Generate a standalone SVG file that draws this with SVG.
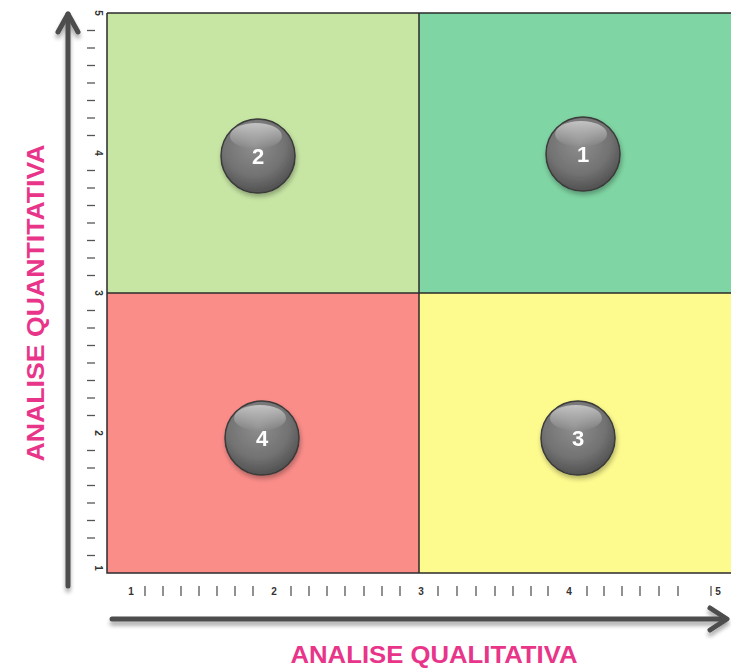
<svg xmlns="http://www.w3.org/2000/svg" width="731" height="668" viewBox="0 0 731 668">
<style>
.q{stroke:none}
.grid{fill:none;stroke:#2b2b2b;stroke-width:1.5}
.tk{stroke:#555;stroke-width:1.3}
.tl{font-family:"Liberation Sans",Arial,sans-serif;font-size:10px;font-weight:bold;fill:#333}
.ax{fill:none;stroke:#4d4d4d;stroke-width:5;stroke-linecap:round;stroke-linejoin:round}
.lbl{font-family:"Liberation Sans",Arial,sans-serif;font-size:23px;font-weight:bold;fill:#e8358a}
.num{font-family:"Liberation Sans",Arial,sans-serif;font-size:22px;font-weight:bold;fill:#ffffff;text-anchor:middle}
.ball{fill:url(#bg);stroke:#3a3a3a;stroke-width:1.5}
</style>
<defs>
<radialGradient id="bg" cx="0.45" cy="0.35" r="0.7">
<stop offset="0" stop-color="#8e8e8e"/>
<stop offset="0.6" stop-color="#727272"/>
<stop offset="1" stop-color="#4a4a4a"/>
</radialGradient>
<linearGradient id="hl" x1="0" y1="0" x2="0" y2="1">
<stop offset="0" stop-color="#ffffff" stop-opacity="0.55"/>
<stop offset="1" stop-color="#ffffff" stop-opacity="0"/>
</linearGradient>
<filter id="sh" x="-20%" y="-50%" width="140%" height="250%">
<feGaussianBlur in="SourceAlpha" stdDeviation="2"/>
<feOffset dx="0" dy="4" result="o"/>
<feComponentTransfer><feFuncA type="linear" slope="0.35"/></feComponentTransfer>
<feMerge><feMergeNode/><feMergeNode in="SourceGraphic"/></feMerge>
</filter>
<filter id="bs" x="-30%" y="-30%" width="160%" height="170%">
<feGaussianBlur in="SourceAlpha" stdDeviation="2.5"/>
<feOffset dx="1" dy="3"/>
<feComponentTransfer><feFuncA type="linear" slope="0.3"/></feComponentTransfer>
<feMerge><feMergeNode/><feMergeNode in="SourceGraphic"/></feMerge>
</filter>
</defs>
<rect width="731" height="668" fill="#ffffff"/>

<g id="quadrants">
<rect class="q" x="107" y="13" width="312" height="280" fill="#c7e6a4"/>
<rect class="q" x="419" y="13" width="312" height="280" fill="#7fd5a3"/>
<rect class="q" x="107" y="293" width="312" height="280" fill="#fb8d89"/>
<rect class="q" x="419" y="293" width="312" height="280" fill="#fdfa8e"/>
<path class="grid" d="M107,13 H731 M107,13 V573 H731 M419,13 V573 M107,293 H731"/>
</g>

<g id="y-axis-ticks">
<g class="tk">
<line x1="87" y1="30.5" x2="95" y2="30.5"/><line x1="87" y1="48" x2="95" y2="48"/><line x1="87" y1="65.5" x2="95" y2="65.5"/><line x1="87" y1="83" x2="95" y2="83"/><line x1="87" y1="100.5" x2="95" y2="100.5"/><line x1="87" y1="118" x2="95" y2="118"/><line x1="87" y1="135.5" x2="95" y2="135.5"/>
<line x1="87" y1="170.5" x2="95" y2="170.5"/><line x1="87" y1="188" x2="95" y2="188"/><line x1="87" y1="205.5" x2="95" y2="205.5"/><line x1="87" y1="223" x2="95" y2="223"/><line x1="87" y1="240.5" x2="95" y2="240.5"/><line x1="87" y1="258" x2="95" y2="258"/><line x1="87" y1="275.5" x2="95" y2="275.5"/>
<line x1="87" y1="310.5" x2="95" y2="310.5"/><line x1="87" y1="328" x2="95" y2="328"/><line x1="87" y1="345.5" x2="95" y2="345.5"/><line x1="87" y1="363" x2="95" y2="363"/><line x1="87" y1="380.5" x2="95" y2="380.5"/><line x1="87" y1="398" x2="95" y2="398"/><line x1="87" y1="415.5" x2="95" y2="415.5"/>
<line x1="87" y1="450.5" x2="95" y2="450.5"/><line x1="87" y1="468" x2="95" y2="468"/><line x1="87" y1="485.5" x2="95" y2="485.5"/><line x1="87" y1="503" x2="95" y2="503"/><line x1="87" y1="520.5" x2="95" y2="520.5"/><line x1="87" y1="538" x2="95" y2="538"/><line x1="87" y1="555.5" x2="95" y2="555.5"/>
</g>
<text class="tl" transform="translate(95,13) rotate(90)" text-anchor="middle">5</text>
<text class="tl" transform="translate(95,153) rotate(90)" text-anchor="middle">4</text>
<text class="tl" transform="translate(95,293) rotate(90)" text-anchor="middle">3</text>
<text class="tl" transform="translate(95,433) rotate(90)" text-anchor="middle">2</text>
<text class="tl" transform="translate(95,568) rotate(90)" text-anchor="middle">1</text>
</g>

<g id="x-axis-ticks">
<g class="tk">
<line x1="145" y1="586" x2="145" y2="596"/><line x1="163" y1="586" x2="163" y2="596"/><line x1="181" y1="586" x2="181" y2="596"/><line x1="199" y1="586" x2="199" y2="596"/><line x1="217" y1="586" x2="217" y2="596"/><line x1="235" y1="586" x2="235" y2="596"/><line x1="253" y1="586" x2="253" y2="596"/>
<line x1="291" y1="586" x2="291" y2="596"/><line x1="309" y1="586" x2="309" y2="596"/><line x1="327" y1="586" x2="327" y2="596"/><line x1="345" y1="586" x2="345" y2="596"/><line x1="364" y1="586" x2="364" y2="596"/><line x1="382" y1="586" x2="382" y2="596"/><line x1="400" y1="586" x2="400" y2="596"/>
<line x1="438" y1="586" x2="438" y2="596"/><line x1="457" y1="586" x2="457" y2="596"/><line x1="476" y1="586" x2="476" y2="596"/><line x1="495" y1="586" x2="495" y2="596"/><line x1="513" y1="586" x2="513" y2="596"/><line x1="531" y1="586" x2="531" y2="596"/><line x1="548" y1="586" x2="548" y2="596"/>
<line x1="587" y1="586" x2="587" y2="596"/><line x1="604" y1="586" x2="604" y2="596"/><line x1="622" y1="586" x2="622" y2="596"/><line x1="640" y1="586" x2="640" y2="596"/><line x1="659" y1="586" x2="659" y2="596"/><line x1="678" y1="586" x2="678" y2="596"/><line x1="711" y1="586" x2="711" y2="596"/>
</g>
<text class="tl" x="131" y="595" text-anchor="middle">1</text>
<text class="tl" x="274" y="595" text-anchor="middle">2</text>
<text class="tl" x="421" y="595" text-anchor="middle">3</text>
<text class="tl" x="569" y="595" text-anchor="middle">4</text>
<text class="tl" x="718" y="595" text-anchor="middle">5</text>
</g>

<g id="connectors">
<g filter="url(#sh)">
<path class="ax" d="M68,586 V14"/>
<path class="ax" d="M58,32 L68,14 L78,32"/>
<path class="ax" d="M112,619 H725"/>
<path class="ax" d="M710,608 L727,619 L710,630"/>
</g>
</g>

<g id="axis-labels">
<text class="lbl" x="434" y="663" text-anchor="middle" textLength="287" lengthAdjust="spacingAndGlyphs">ANALISE QUALITATIVA</text>
<text class="lbl" transform="translate(44,303) rotate(-90)" text-anchor="middle" textLength="317" lengthAdjust="spacingAndGlyphs">ANALISE QUANTITATIVA</text>
</g>

<g id="node-2" filter="url(#bs)">
<circle class="ball" cx="258" cy="156" r="37"/>
<ellipse cx="256" cy="136" rx="26" ry="13" fill="url(#hl)"/>
<text class="num" x="258" y="164">2</text>
</g>
<g id="node-1" filter="url(#bs)">
<circle class="ball" cx="583" cy="154" r="37"/>
<ellipse cx="581" cy="134" rx="26" ry="13" fill="url(#hl)"/>
<text class="num" x="583" y="162">1</text>
</g>
<g id="node-4" filter="url(#bs)">
<circle class="ball" cx="262" cy="438" r="37"/>
<ellipse cx="260" cy="418" rx="26" ry="13" fill="url(#hl)"/>
<text class="num" x="262" y="446">4</text>
</g>
<g id="node-3" filter="url(#bs)">
<circle class="ball" cx="578" cy="438" r="37"/>
<ellipse cx="576" cy="418" rx="26" ry="13" fill="url(#hl)"/>
<text class="num" x="578" y="446">3</text>
</g>
</svg>
